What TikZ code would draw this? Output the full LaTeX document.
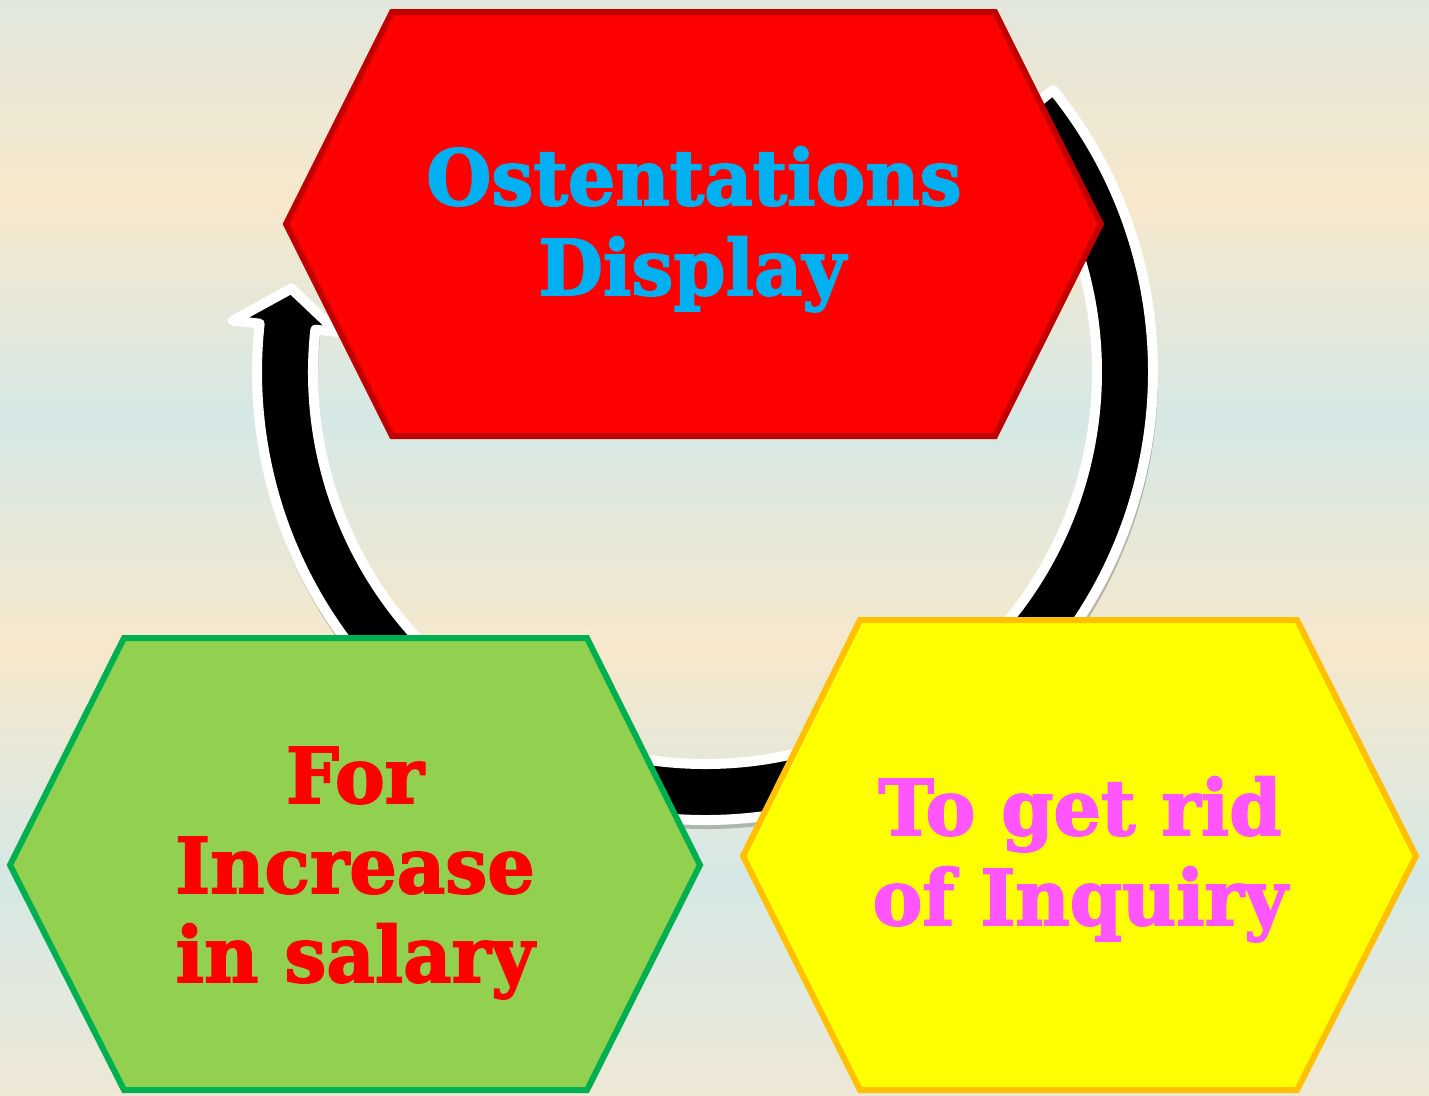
\documentclass[tikz,border=0pt]{standalone}
\usepackage{fontspec}
\usetikzlibrary{calc}
\newfontfamily\rock[FakeBold=2.2,FakeStretch=0.97]{DejaVu Serif}
\definecolor{bgA}{RGB}{226,231,221}
\definecolor{bgBeige}{RGB}{247,232,204}
\definecolor{bgBlue}{RGB}{213,232,229}
\definecolor{bgEnd}{RGB}{238,232,214}
\definecolor{hexRed}{RGB}{255,0,0}
\definecolor{hexRedLine}{RGB}{192,0,0}
\definecolor{hexGreen}{RGB}{146,208,80}
\definecolor{hexGreenLine}{RGB}{0,176,80}
\definecolor{hexYellow}{RGB}{255,255,0}
\definecolor{hexYellowLine}{RGB}{255,192,0}
\definecolor{txtBlue}{RGB}{0,176,240}
\definecolor{txtRed}{RGB}{255,0,0}
\definecolor{txtMagenta}{RGB}{255,85,255}
\tikzset{
  hexbox/.style={line width=6pt, line join=miter},
  label/.style={anchor=base, inner sep=0pt, font=\rock\bfseries\fontsize{77}{90}\selectfont},
  arrowbody/.style={fill=black, draw=white, line width=10pt, line join=round},
  arrowshadow/.style={fill=black, opacity=0.22},
}
\begin{document}
\begin{tikzpicture}[x=1pt, y=-1pt]
\useasboundingbox (0,0) rectangle (1429,1095);
% background bands
\shade[top color=bgA, bottom color=bgBeige] (0,0) rectangle (1429,200);
\shade[top color=bgBeige, bottom color=bgBlue] (0,199) rectangle (1429,420);
\shade[top color=bgBlue, bottom color=bgBeige] (0,419) rectangle (1429,650);
\shade[top color=bgBeige, bottom color=bgBlue] (0,649) rectangle (1429,880);
\shade[top color=bgBlue, bottom color=bgEnd] (0,879) rectangle (1429,1095);
% circular arrow
\coordinate (C) at (705,372);
\coordinate (Cs) at (706,377);
\path[arrowshadow] ($(Cs)+(39:452pt)$) arc[start angle=39, end angle=-186.2, radius=452pt]
  -- ($(Cs)+(173.8:480pt)$) -- ($(Cs)+(168.6:425pt)$) -- ($(Cs)+(173.8:366pt)$)
  -- ($(Cs)+(173.8:388pt)$) arc[start angle=-186.2, end angle=39, radius=388pt] -- cycle;
\path[arrowbody] ($(C)+(39:448pt)$) arc[start angle=39, end angle=-186.2, radius=448pt]
  -- ($(C)+(173.8:475pt)$) -- ($(C)+(168.6:422pt)$) -- ($(C)+(173.8:370pt)$)
  -- ($(C)+(173.8:392pt)$) arc[start angle=-186.2, end angle=39, radius=392pt] -- cycle;
% hexagons
\draw[hexbox, fill=hexRed, draw=hexRedLine] (392,12) -- (995,12) -- (1101,224) -- (995,436) -- (392,436) -- (286,224) -- cycle;
\draw[hexbox, fill=hexGreen, draw=hexGreenLine] (124,638) -- (587,638) -- (700,865) -- (587,1090) -- (124,1090) -- (10,865) -- cycle;
\draw[hexbox, fill=hexYellow, draw=hexYellowLine] (860,620) -- (1297,620) -- (1416,856) -- (1297,1090) -- (860,1090) -- (743,856) -- cycle;
% texts
\node[label, text=txtBlue] (t1a) at (694,205) {Ostentations};
\node[label, text=txtBlue] (t1b) at (692,295) {Display};
\node[label, text=txtRed] (t2a) at (355,803) {For};
\node[label, text=txtRed] (t2b) at (355,893) {Increase};
\node[label, text=txtRed] (t2c) at (355,982) {in salary};
\node[label, text=txtMagenta] (t3a) at (1080,835) {To get rid};
\node[label, text=txtMagenta] (t3b) at (1080,925) {of Inquiry};
\end{tikzpicture}
\end{document}
